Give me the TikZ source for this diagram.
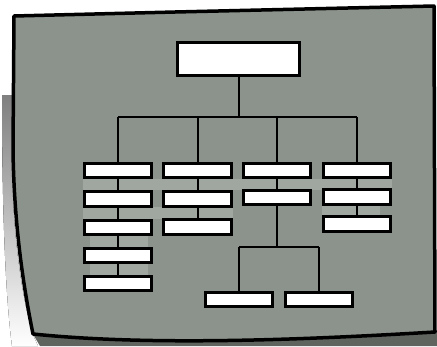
\documentclass[tikz,border=0pt]{standalone}
\definecolor{sheet}{RGB}{140,147,140}
\definecolor{band}{RGB}{160,167,160}
\definecolor{shade}{RGB}{222,224,222}
\definecolor{under}{RGB}{95,100,95}
\begin{document}
\begin{tikzpicture}[x=1pt,y=-1pt,
  box/.style={draw=black,line width=2.6pt,fill=white,inner sep=0pt,minimum width=67.5pt,minimum height=14.5pt},
  topbox/.style={box,minimum width=122.5pt,minimum height=33.5pt},
  link/.style={line width=2pt,draw=black}]
\useasboundingbox (0,0) rectangle (437,346);
% soft shadow at the left and the dark strip below the sheet
\fill[shade] (2,95) -- (13,95) -- (13,200) .. controls (16,260) and (25,310) .. (33,335) -- (38,346) -- (12,346) .. controls (6,300) and (2,220) .. (2,95) -- cycle;
\fill[under] (33,334) .. controls (150,346) and (300,340) .. (437,330) -- (437,346) -- (40,346) -- cycle;
% the sheet
\filldraw[fill=sheet,draw=black,line width=3.5pt,line join=round]
  (14,16) -- (175,12) -- (434,6) -- (435,332)
  .. controls (300,340) and (150,346) .. (33,334)
  .. controls (22,280) and (14,220) .. (13,150) -- cycle;
% lighter bands between the rows
\fill[band] (83,179) rectangle (392,190);
\fill[band] (83,207) rectangle (233,219);
\fill[band] (322,205) rectangle (380,215);
\fill[band] (90,236) rectangle (148,247);
\fill[band] (90,264) rectangle (148,275);
% boxes
\node[topbox] (top) at (238.5,59) {};
\node[box] (c1r1) at (118,170.5) {};
\node[box] (c1r2) at (118,199) {};
\node[box] (c1r3) at (118,227.5) {};
\node[box] (c1r4) at (118,255.5) {};
\node[box] (c1r5) at (118,283.5) {};
\node[box] (c2r1) at (197.5,170.5) {};
\node[box] (c2r2) at (197.5,199) {};
\node[box] (c2r3) at (197.5,227) {};
\node[box] (c3r1) at (277,170.5) {};
\node[box] (c3r2) at (277,197.5) {};
\node[box] (c4r1) at (357,170.5) {};
\node[box] (c4r2) at (357,197) {};
\node[box] (c4r3) at (357,224) {};
\node[box] (b1) at (239,299.5) {};
\node[box] (b2) at (319,299.5) {};
% connectors
\coordinate (bus) at (0,117);
\coordinate (sub) at (0,247);
\draw[link] (top.south) -- (top.south |- bus);
\draw[link] (c1r1.north |- bus) -- (c4r1.north |- bus);
\foreach \i in {1,...,4} \draw[link] (c\i r1.north |- bus) -- (c\i r1.north);
\draw[link] (c1r1) -- (c1r2);
\draw[link] (c1r2) -- (c1r3);
\draw[link] (c1r3) -- (c1r4);
\draw[link] (c1r4) -- (c1r5);
\draw[link] (c2r1) -- (c2r2);
\draw[link] (c2r2) -- (c2r3);
\draw[link] (c3r1) -- (c3r2);
\draw[link] (c4r1) -- (c4r2);
\draw[link] (c4r2) -- (c4r3);
\draw[link] (c3r2.south) -- (c3r2.south |- sub);
\draw[link] (b1.north |- sub) -- (b2.north |- sub);
\draw[link] (b1.north |- sub) -- (b1.north);
\draw[link] (b2.north |- sub) -- (b2.north);
\end{tikzpicture}
\end{document}
